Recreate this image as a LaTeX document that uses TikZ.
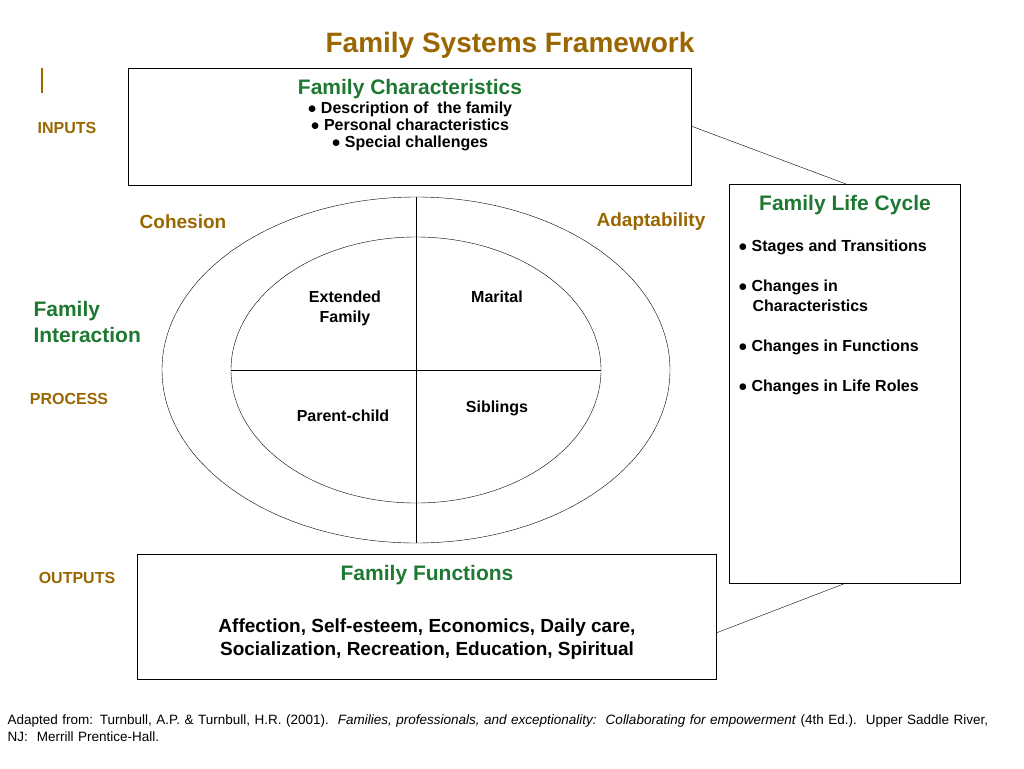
\documentclass[tikz,border=0pt]{standalone}
\usepackage{fontspec}
\setmainfont{Liberation Sans}
\usepackage{tikz}
\usetikzlibrary{positioning, shapes.geometric}
\definecolor{gold}{RGB}{153,102,0}
\definecolor{leaf}{RGB}{30,120,50}
\newcommand{\fs}[1]{\fontsize{#1}{1.25\dimexpr#1pt\relax}\selectfont}
\begin{document}
\begin{tikzpicture}[x=1pt, y=-1pt, auto,
    box/.style={draw, rectangle, line width=0.8pt, inner sep=0pt, anchor=north west},
    side/.style={text=gold, font=\fs{16}\bfseries},
    part/.style={font=\fs{16}\bfseries, align=center}]
        \useasboundingbox (0,0) rectangle (1024,768);
        \node (title) [text=gold, font=\fs{28}\bfseries] at (510,45) {Family Systems Framework};
        \draw[gold, line width=1.2pt] (42,68) -- (42,93);

        \node (chars) [box, minimum width=563pt, minimum height=117pt] at (128,68) {};
        \node (life) [box, minimum width=231pt, minimum height=399pt] at (729,184) {};
        \node (funcs) [box, minimum width=579pt, minimum height=125pt] at (137,554) {};

        \node (charshead) [text=leaf, font=\fs{21}\bfseries] at (410,89) {Family Characteristics};
        \node (charslist) [part, below=-4pt of charshead, font=\fs{16}\bfseries\linespread{0.85}\selectfont] {%
            $\bullet$ Description of\ \ the family\\ $\bullet$ Personal characteristics\\ $\bullet$ Special challenges};
        \node (lifehead) [text=leaf, font=\fs{21}\bfseries] at (845,205) {Family Life Cycle};
        \node (lifelist) [font=\fs{16}\bfseries, align=left, anchor=north west] at (735,236) {%
            $\bullet$ Stages and Transitions\\[20pt] $\bullet$ Changes in\\ \hspace*{14pt}Characteristics\\[20pt]
            $\bullet$ Changes in Functions\\[20pt] $\bullet$ Changes in Life Roles};
        \node (funcshead) [text=leaf, font=\fs{21}\bfseries] at (427,575) {Family Functions};
        \node (funcslist) [font=\fs{19}\bfseries, align=center] at (427,639) {%
            Affection, Self-esteem, Economics, Daily care,\\ Socialization, Recreation, Education, Spiritual};

        \coordinate (charsend) at (691,126);
        \coordinate (lifetop) at (846,184);
        \coordinate (lifebot) at (846,583);
        \coordinate (funcsend) at (716,633);
        \draw (charsend) -- (lifetop);
        \draw (funcsend) -- (lifebot);

        % interaction circles
        \node (outer) [draw, ellipse, inner sep=0pt, minimum width=508pt, minimum height=346pt] at (416,370) {};
        \node (inner) [draw, ellipse, inner sep=0pt, minimum width=370pt, minimum height=266pt] at (416,370) {};
        \draw (outer.north) -- (outer.south);
        \draw (inner.west) -- (inner.east);
        \node (extended) [part] at (345,308) {Extended\\Family};
        \node (marital) [part] at (497,297) {Marital};
        \node (parent) [part] at (343,416) {Parent-child};
        \node (siblings) [part] at (497,408) {Siblings};
        \node (cohesion) [text=gold, font=\fs{19}\bfseries] at (183,222) {Cohesion};
        \node (adapt) [text=gold, font=\fs{19}\bfseries] at (651,222) {Adaptability};

        \node (interaction) [text=leaf, font=\fs{21}\bfseries, align=left, anchor=west] at (30,322) {Family\\Interaction};
        \node (inputs) [side] at (67,128) {INPUTS};
        \node (process) [side] at (69,399) {PROCESS};
        \node (outputs) [side] at (77,578) {OUTPUTS};

        \node (source) [font=\fs{13.5}, align=left, anchor=north west, text width=1000pt] at (4,711) {%
            Adapted from: Turnbull, A.P. \& Turnbull, H.R. (2001).\ \ \textit{Families, professionals, and exceptionality:\ \ Collaborating for empowerment} (4th Ed.).\ \ Upper Saddle River, NJ:\ \ Merrill Prentice-Hall.};
    \end{tikzpicture}
\end{document}
